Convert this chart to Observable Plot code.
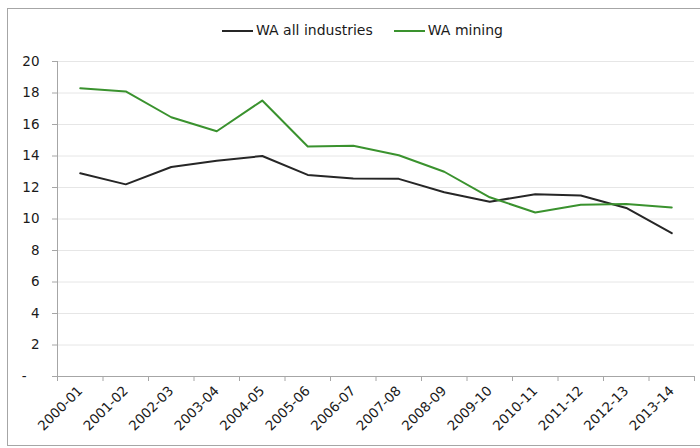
<!DOCTYPE html>
<html>
<head>
<meta charset="utf-8">
<script src="https://cdn.jsdelivr.net/npm/d3@7"></script>
<script src="https://cdn.jsdelivr.net/npm/@observablehq/plot@0.6"></script>
<style>
  body { margin: 0; background: #fff; }
  #wrap { position: relative; width: 700px; height: 448px; font-family: "DejaVu Sans", "Liberation Sans", Arial, sans-serif; color: #1a1a1a; }
  #frame { position: absolute; left: 7px; top: 8px; width: 700px; height: 438px; border: 1px solid #a6a6a6; border-right: none; box-sizing: border-box; pointer-events: none; }
  #legend { position: absolute; top: 22px; left: 222px; font-size: 14px; line-height: 17px; display: flex; align-items: center; white-space: nowrap; }
  .item { display: flex; align-items: center; }
  .sw { display: inline-block; width: 31px; height: 2px; margin-right: 3px; }
  #chart { position: absolute; left: 0; top: 0; }
</style>
</head>
<body>
<div id="wrap">
  <div id="chart"></div>
  <div id="frame"></div>
  <div id="legend"></div>
</div>
<script>
const years = ["2000-01","2001-02","2002-03","2003-04","2004-05","2005-06","2006-07","2007-08","2008-09","2009-10","2010-11","2011-12","2012-13","2013-14"];
const allIndustries = [12.9, 12.2, 13.3, 13.7, 14.0, 12.8, 12.57, 12.55, 11.7, 11.1, 11.57, 11.49, 10.7, 9.1];
const mining = [18.3, 18.1, 16.46, 15.57, 17.52, 14.6, 14.65, 14.05, 13.0, 11.38, 10.41, 10.9, 10.96, 10.73];
const seriesNames = ["WA all industries", "WA mining"];
const seriesColors = ["#262626", "#3a922e"];
const yTicks = [0, 2, 4, 6, 8, 10, 12, 14, 16, 18, 20];

const seriesValues = [allIndustries, mining];
const rows = [];
seriesNames.forEach((name, s) => {
  seriesValues[s].forEach((v, i) => rows.push({pos: i + 0.5, year: years[i], value: v, series: name}));
});
const boundaries = d3.range(0, years.length + 1);
const centers = years.map((_, i) => i + 0.5);

const chart = Plot.plot({
  width: 700,
  height: 448,
  marginLeft: 57,
  marginRight: 6,
  marginTop: 61,
  marginBottom: 72,
  style: {fontFamily: '"DejaVu Sans", "Liberation Sans", Arial, sans-serif', fontSize: "13.5px", background: "transparent", color: "#1a1a1a"},
  x: {type: "linear", domain: [0, years.length]},
  y: {domain: [0, 20]},
  color: {domain: seriesNames, range: seriesColors},
  marks: [
    Plot.gridY(yTicks.filter(d => d > 0), {stroke: "#e6e6e6", strokeOpacity: 1, strokeWidth: 1}),
    Plot.ruleX([0], {stroke: "#a6a6a6", strokeWidth: 1}),
    Plot.ruleY([0], {stroke: "#a6a6a6", strokeWidth: 1}),
    Plot.axisY(yTicks, {tickSize: 5, tickPadding: 13, stroke: "#a6a6a6", fill: "#1a1a1a", fontSize: 13.5,
      tickFormat: d => d === 0 ? "-\u00a0\u00a0\u00a0" : String(d), label: null}),
    Plot.axisX(boundaries, {tickSize: 5, stroke: "#a6a6a6", tickFormat: () => "", label: null}),
    Plot.axisX(centers, {tickSize: 0, tickPadding: 12, tickRotate: -45, fill: "#1a1a1a", fontSize: 13.5,
      tickFormat: d => years[Math.floor(d)], label: null}),
    Plot.line(rows, {x: "pos", y: "value", stroke: "series", z: "series", strokeWidth: 2})
  ]
});
document.getElementById("chart").appendChild(chart);

const legend = document.getElementById("legend");
seriesNames.forEach((name, i) => {
  const item = document.createElement("span");
  item.className = "item";
  if (i > 0) item.style.marginLeft = "21px";
  const sw = document.createElement("span");
  sw.className = "sw";
  sw.style.background = seriesColors[i];
  const t = document.createElement("span");
  t.textContent = name;
  item.appendChild(sw);
  item.appendChild(t);
  legend.appendChild(item);
});
</script>
</body>
</html>
